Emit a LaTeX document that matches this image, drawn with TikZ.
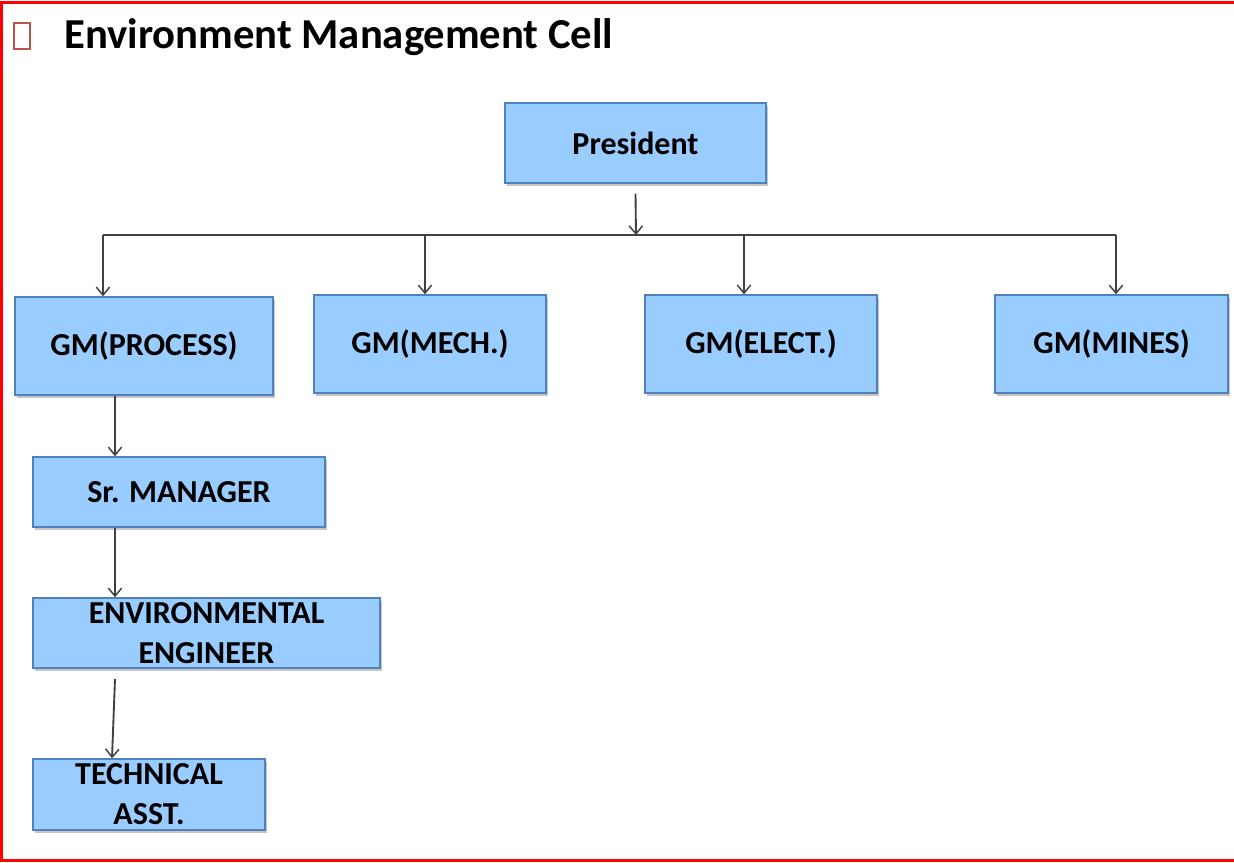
\documentclass[tikz,border=0pt]{standalone}
\usepackage{fontspec}
\setmainfont{Carlito}
\usetikzlibrary{arrows.meta,shadows}
\definecolor{boxfill}{HTML}{99CCFF}
\definecolor{boxline}{HTML}{4F81BD}
\definecolor{conn}{HTML}{404040}
\definecolor{chk}{HTML}{C0504D}
\tikzset{
  bx/.style 2 args={draw=boxline, line width=1.1pt, fill=boxfill,
    minimum width=#1*0.75pt, minimum height=#2*0.75pt, inner sep=0pt,
    align=center, font=\fontsize{24}{30}\selectfont\bfseries,
    drop shadow={shadow xshift=1.8pt, shadow yshift=-2.2pt, fill=black!45, opacity=0.5}},
  conline/.style={draw=conn, line width=1.4pt},
  arr/.style={conline, -{Straight Barb[length=6pt,width=10pt,line width=1.1pt]}},
}
\begin{document}
\begin{tikzpicture}[x=0.75pt,y=-0.75pt]
\useasboundingbox (0,0) rectangle (1234,863);
% frame
\draw[red, line width=1.8pt] (1234,2.5) -- (1.5,2.5) -- (1.5,860.5) -- (1234,860.5);
% title
\draw[chk, line width=0.8pt] (14,23) rectangle (30,49);
\node[anchor=base west, inner sep=0pt, font=\fontsize{32}{36}\selectfont\bfseries] (title) at (64,49) {Environment Management Cell};
% boxes
\node[bx={261}{80}] (pres) at (635.5,143) {President};
\node[bx={258}{98}] (gmp) at (144,346) {GM(PROCESS)};
\node[bx={232}{98}] (gmm) at (430,344) {GM(MECH.)};
\node[bx={232}{98}] (gme) at (761,344) {GM(ELECT.)};
\node[bx={233}{98}] (gmn) at (1111.5,344) {GM(MINES)};
\node[bx={292}{70}] (srm) at (179,492) {Sr. MANAGER};
\node[bx={347}{70}] (env) at (206.5,633) {ENVIRONMENTAL\\ENGINEER};
\node[bx={232}{71}] (tech) at (149,794.5) {TECHNICAL\\ASST.};
% connectors
\coordinate (bus) at (636,235);
\coordinate (busL) at (103,235);
\coordinate (busM) at (425,235);
\coordinate (busE) at (744,235);
\coordinate (busR) at (1116,235);
\draw[arr] ([yshift=-7.5pt]pres.south) -- (bus);
\draw[conline] (busL) -- (busR);
\draw[arr] (busL) -- (gmp.north -| busL);
\draw[arr] (busM) -- (gmm.north -| busM);
\draw[arr] (busE) -- (gme.north -| busE);
\draw[arr] (busR) -- (gmn.north -| busR);
\coordinate (c1) at (115,395);
\draw[arr] (gmp.south -| c1) -- (srm.north -| c1);
\draw[arr] (srm.south -| c1) -- (env.north -| c1);
\coordinate (c3) at (115,679);
\coordinate (c4) at (112,759);
\draw[arr] (c3) -- (tech.north -| c4);
\end{tikzpicture}
\end{document}
